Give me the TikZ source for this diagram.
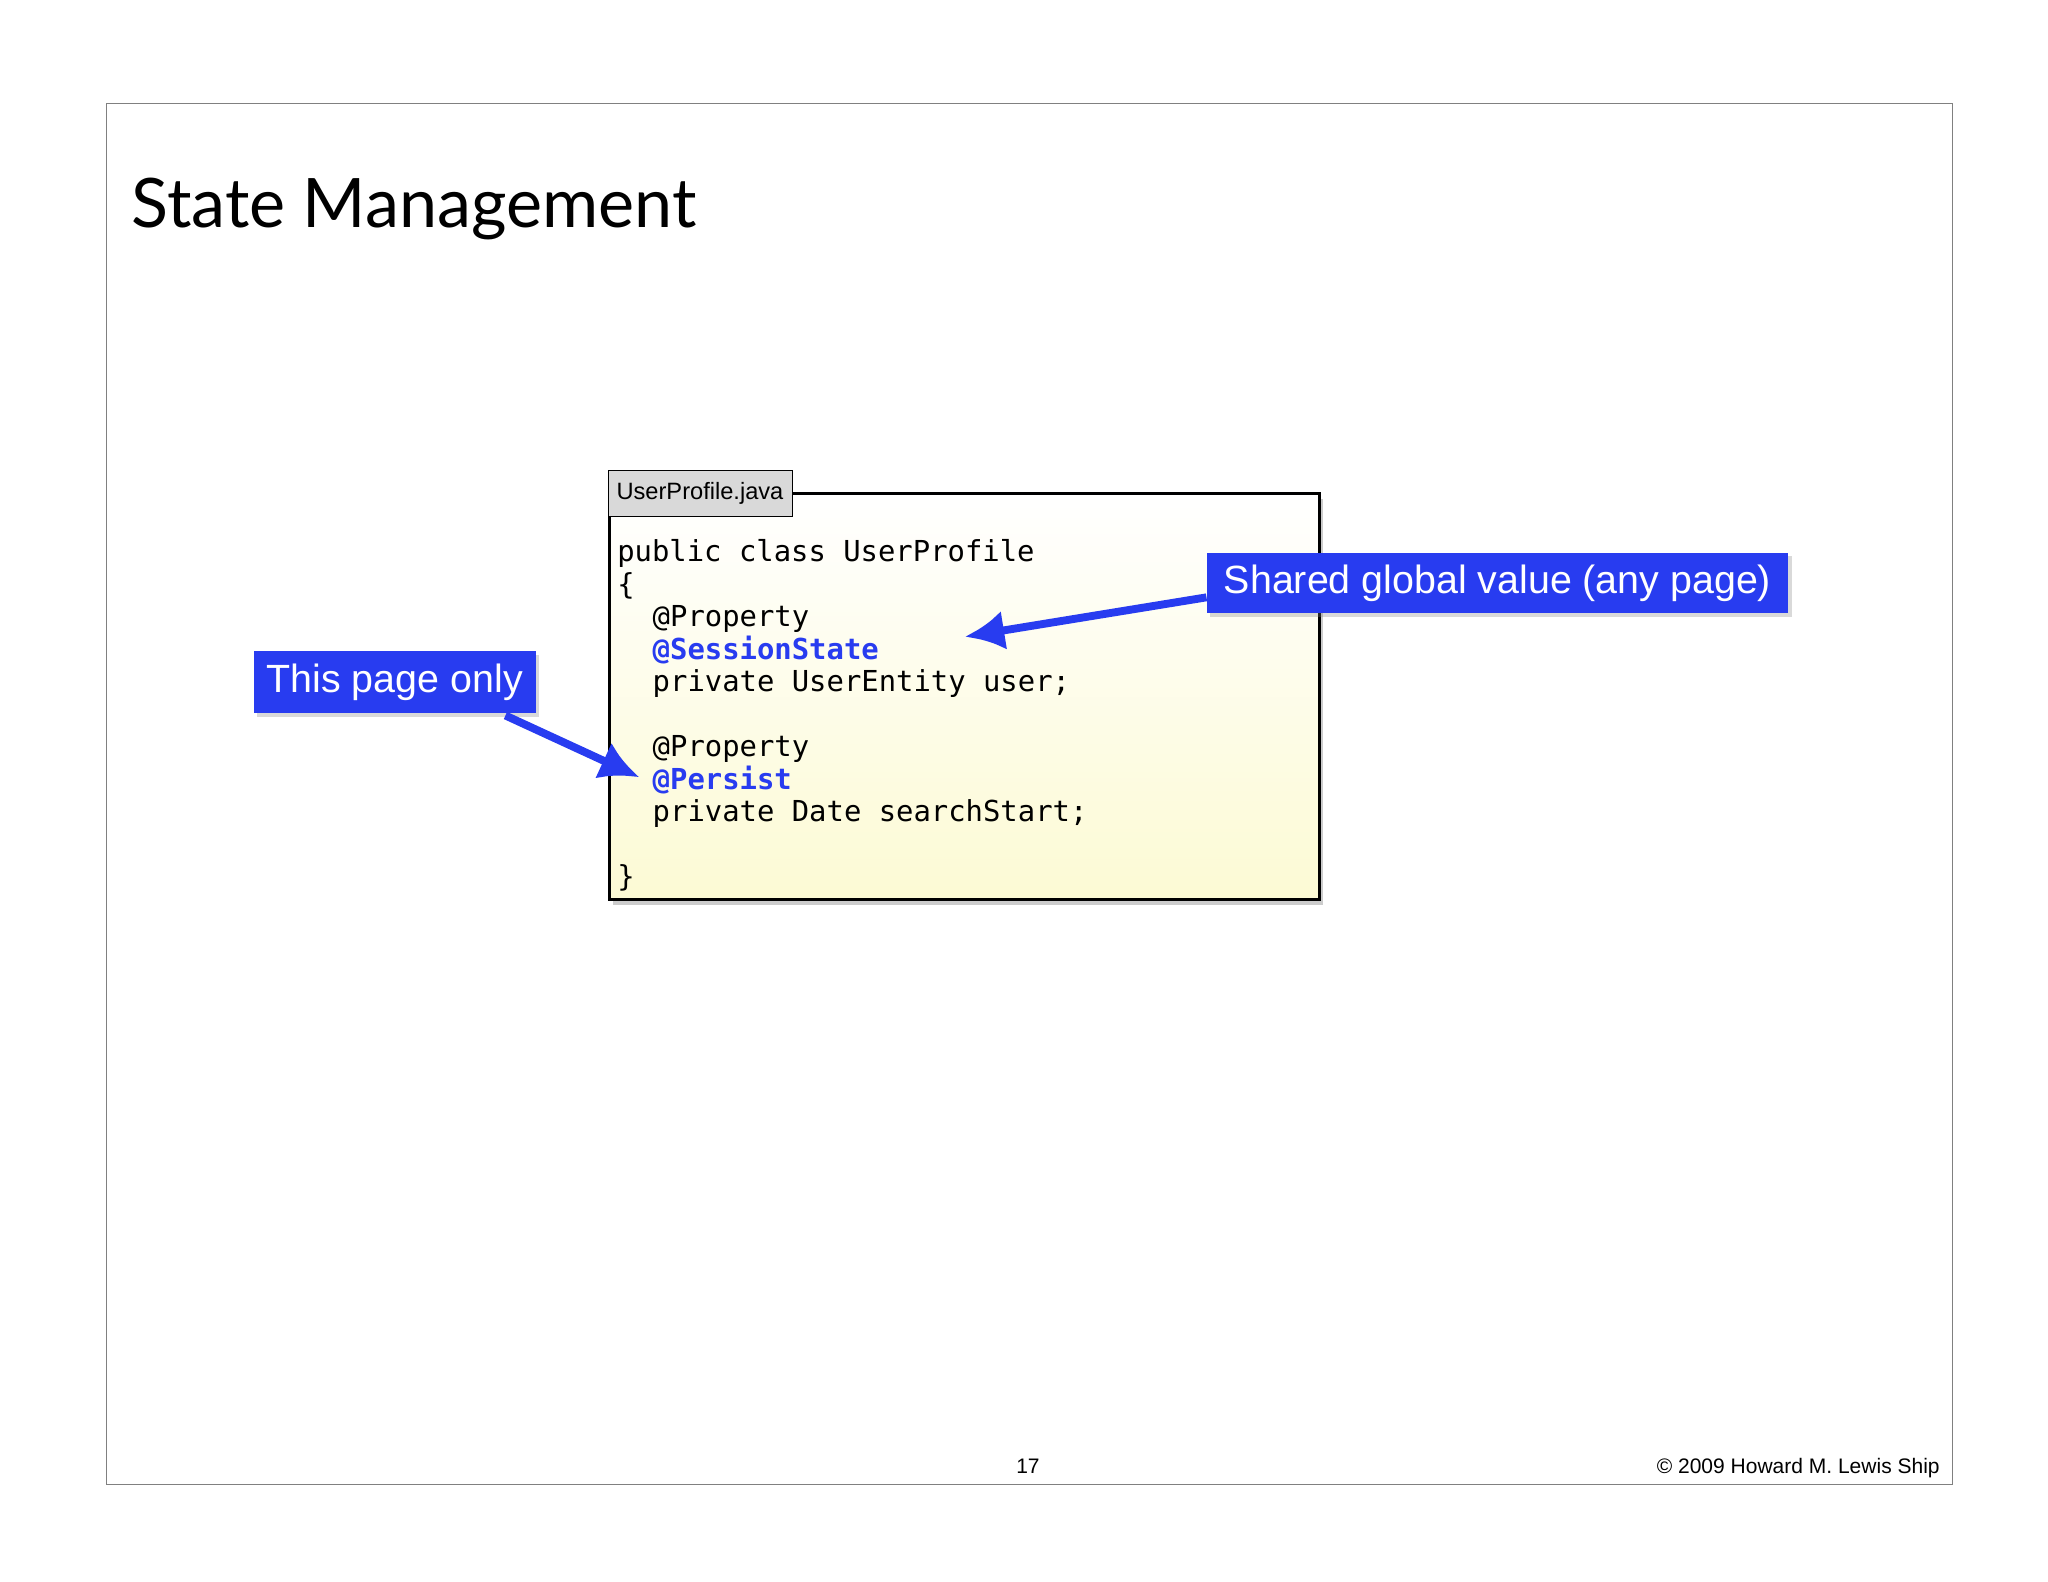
\documentclass[tikz,border=0pt]{standalone}
\usepackage{fontspec}
\setmainfont{Liberation Sans}
\newfontfamily\titlefont{Lato}
\setmonofont{DejaVu Sans Mono}
\usetikzlibrary{positioning,arrows.meta,shadows}
\definecolor{calloutblue}{RGB}{40,60,240}
\definecolor{codeyellow}{RGB}{252,250,212}
\tikzset{
  callout/.style={fill=calloutblue, text=white, inner sep=4pt, font=\fontsize{30}{34}\selectfont, drop shadow={opacity=0.3}},
  codeline/.style={anchor=base west, inner sep=0pt, font=\ttfamily\fontsize{22}{24}\selectfont},
  pointer/.style={-{Latex[length=30pt,width=30pt]}, line width=6pt, color=calloutblue}
}
\begin{document}
\begin{tikzpicture}[x=1pt,y=-1pt]
  \useasboundingbox (0,0) rectangle (1560,1205);
  %Slide frame:
  \draw[gray, line width=0.6pt] (81,79) rectangle (1487,1131);
  \node[anchor=base west, inner sep=0pt, font=\titlefont\fontsize{52}{56}\selectfont] (title) at (100,173) {State Management};
  %Code box:
  \draw[line width=2.5pt, top color=white, bottom color=codeyellow, drop shadow={opacity=0.4, shadow xshift=3pt, shadow yshift=-4pt}] (464,376) rectangle (1005,685);
  \node[draw=black, fill=gray!30, anchor=north west, minimum width=140pt, minimum height=35pt, inner sep=2pt, font=\fontsize{18}{20}\selectfont] (tab) at (463,358) {UserProfile.java};
  \node[codeline] (l1) at (470,428) {public class UserProfile};
  \node[codeline] (l2) at (470,453) {\{};
  \node[codeline] (l3) at (497,477) {@Property};
  \node[codeline, text=calloutblue, font=\ttfamily\bfseries\fontsize{22}{24}\selectfont] (l4) at (497,502) {@SessionState};
  \node[codeline] (l5) at (497,527) {private UserEntity user;};
  \node[codeline] (l6) at (497,576) {@Property};
  \node[codeline, text=calloutblue, font=\ttfamily\bfseries\fontsize{22}{24}\selectfont] (l7) at (497,601) {@Persist};
  \node[codeline] (l8) at (497,626) {private Date searchStart;};
  \node[codeline] (l9) at (470,675) {\}};
  %Callouts:
  \node[callout, anchor=north west, minimum width=443pt, minimum height=46pt] (shared) at (919,421) {Shared global value (any page)};
  \node[callout, anchor=north west, minimum width=215pt, minimum height=47pt] (pageonly) at (193,496) {This page only};
  \coordinate (sharedtip) at (735,485);
  \coordinate (pagetip) at (487,592);
  \draw[pointer] (shared.west |- 0,455) -- (sharedtip);
  \draw[pointer] (385,545) -- (pagetip);
  %Footer:
  \node[anchor=base, font=\fontsize{16}{18}\selectfont] (pagenum) at (783,1122) {17};
  \node[anchor=base east, font=\fontsize{16}{18}\selectfont] (credit) at (1481,1122) {© 2009 Howard M. Lewis Ship};
\end{tikzpicture}
\end{document}
